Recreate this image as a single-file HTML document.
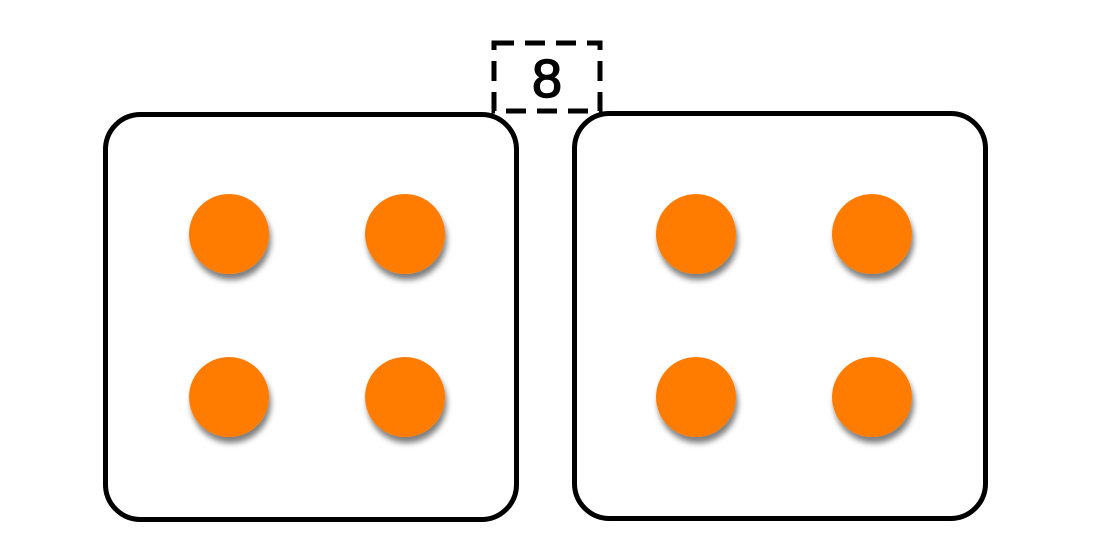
<!DOCTYPE html>
<html><head><style>html,body{margin:0;padding:0;background:#fff;}svg{display:block;}</style></head>
<body>
<svg width="1100" height="550" viewBox="0 0 1100 550" xmlns="http://www.w3.org/2000/svg">
<defs>
<filter id="sh" x="-50%" y="-50%" width="200%" height="200%">
<feGaussianBlur in="SourceAlpha" stdDeviation="3"/>
<feOffset dx="2" dy="6" result="b"/>
<feFlood flood-color="#000" flood-opacity="0.5"/>
<feComposite in2="b" operator="in"/>
<feMerge><feMergeNode/><feMergeNode in="SourceGraphic"/></feMerge>
</filter>
</defs>
<rect x="105.5" y="114.5" width="411" height="405" rx="35" fill="#fff" stroke="#000" stroke-width="5"/>
<rect x="574.5" y="113.5" width="411" height="405" rx="35" fill="#fff" stroke="#000" stroke-width="5"/>
<rect x="494" y="43" width="106" height="68" fill="#fff" stroke="#000" stroke-width="5" stroke-dasharray="20 11"/>
<text x="547" y="97" text-anchor="middle" font-family="Liberation Sans, sans-serif" font-size="54" stroke="#000" stroke-width="1.5">8</text>
<g fill="#ff7b02" filter="url(#sh)">
<circle cx="229" cy="234" r="40"/><circle cx="405" cy="234" r="40"/>
<circle cx="229" cy="397" r="40"/><circle cx="405" cy="397" r="40"/>
<circle cx="696" cy="234" r="40"/><circle cx="872" cy="234" r="40"/>
<circle cx="696" cy="397" r="40"/><circle cx="872" cy="397" r="40"/>
</g>
</svg>
</body></html>
